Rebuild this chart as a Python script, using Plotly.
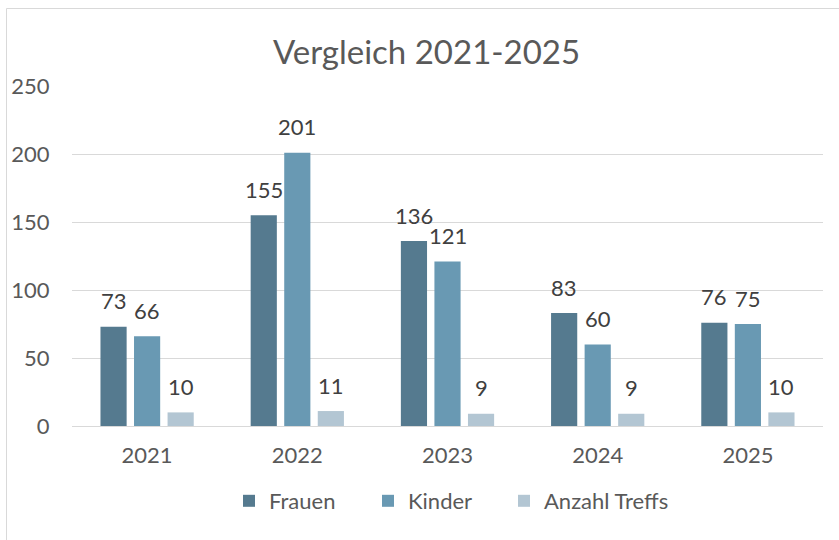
import plotly.graph_objects as go

years = ["2021", "2022", "2023", "2024", "2025"]
frauen = [73, 155, 136, 83, 76]
kinder = [66, 201, 121, 60, 75]
treffs = [10, 11, 9, 9, 10]
series_names = ["Frauen", "Kinder", "Anzahl Treffs"]
series_values = [frauen, kinder, treffs]
series_colors = ["#557A8F", "#6999B3", "#B3C6D3"]
y_ticks = [0, 50, 100, 150, 200, 250]

FONT = "Lato"
W, H = 839, 540
L, R, T, B = 72, 16, 86, 114
PW, PH = W - L - R, H - T - B

legend_names = ["legend", "legend2", "legend3"]
legend_left_px = [229, 368, 504]

fig = go.Figure()
for name, vals, col, lg in zip(series_names, series_values, series_colors, legend_names):
    fig.add_trace(go.Bar(x=years, y=vals, name=name, legend=lg,
                         marker=dict(color=col, line=dict(width=0))))

# data labels positioned via axes (category index) with group offsets
offsets = [-33.5, 0, 33.5]
for vals, dx in zip(series_values, offsets):
    for i, v in enumerate(vals):
        fig.add_annotation(x=i, y=v, xref="x", yref="y", text=str(v), showarrow=False,
                           xshift=dx, yshift=26, yanchor="middle",
                           font=dict(family=FONT, size=22, color="#404040"))

leg_common = dict(orientation="h", xanchor="left", y=(426 - 501) / PH, yanchor="middle",
                  font=dict(family=FONT, size=22, color="#595959"), bgcolor="rgba(0,0,0,0)")
legends = {}
for lg, px in zip(legend_names, legend_left_px):
    legends[lg] = dict(x=(px - L) / PW, **leg_common)

fig.update_layout(
    width=W, height=H,
    margin=dict(l=L, r=R, t=T, b=B),
    paper_bgcolor="white", plot_bgcolor="white",
    barmode="group", bargap=0.33, bargroupgap=0.22,
    title=dict(text="Vergleich 2021-2025", x=426.5 / W, xanchor="center", y=1 - 52 / H, yanchor="middle",
               font=dict(family=FONT, size=33, color="#595959")),
    font=dict(family=FONT, color="#595959"),
    showlegend=True,
    **legends,
)
fig.update_yaxes(range=[0, 250], tickvals=y_ticks, showgrid=True, gridcolor="#D9D9D9", gridwidth=1,
                 zeroline=False, showline=False, ticks="outside", ticklen=17, tickcolor="white",
                 tickfont=dict(family=FONT, size=22, color="#595959"))
fig.update_xaxes(type="category", range=[-0.5, len(years) - 0.5], showline=True, linecolor="#D9D9D9",
                 linewidth=1, ticks="outside", ticklen=10, tickcolor="white",
                 tickfont=dict(family=FONT, size=22, color="#595959"))

# outer chart border (cropped at right and bottom)
bx = (6.5 - L) / PW
by = (426 - 8.5) / PH
fig.add_shape(type="line", xref="paper", yref="paper", x0=bx, x1=1.2, y0=by, y1=by,
              line=dict(color="#D9D9D9", width=1))
fig.add_shape(type="line", xref="paper", yref="paper", x0=bx, x1=bx, y0=by, y1=-0.5,
              line=dict(color="#D9D9D9", width=1))

fig.write_html("out.html", config={"displayModeBar": False},
               post_script="document.body.style.margin='0';document.body.style.overflow='hidden';")
